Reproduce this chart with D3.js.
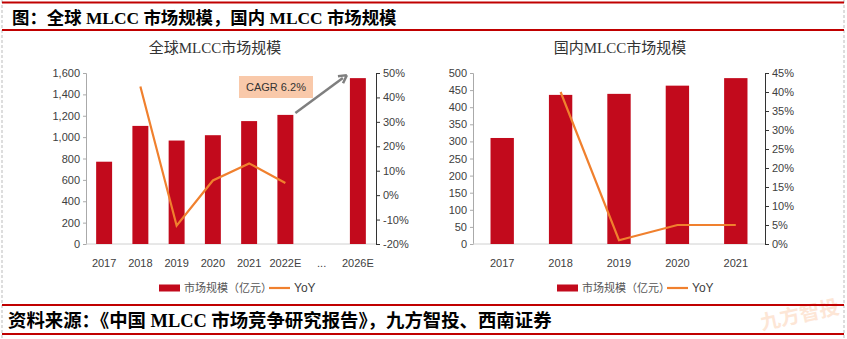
<!DOCTYPE html>
<html>
<head>
<meta charset="utf-8">
<script src="https://cdn.jsdelivr.net/npm/d3@7"></script>
<style>
  body { margin: 0; background: #fff; }
  svg text { font-family: "Liberation Sans", Arial, sans-serif; }
  .caption { font-family: "Liberation Serif", "Noto Sans CJK SC", serif !important; font-weight: bold; fill: #000; }
  .chart-title { font-family: "Liberation Serif", "Noto Sans CJK SC", serif !important; font-size: 15px; fill: #333; }
  .tick-label { font-size: 11px; fill: #404040; }
  .legend-label { font-size: 11px; fill: #555; font-family: "Noto Sans CJK SC", sans-serif !important; }
</style>
</head>
<body>
<div id="page"></div>
<script>
// Global MLCC market (100 million yuan) and YoY growth
var globalYears = ["2017", "2018", "2019", "2020", "2021", "2022E", "...", "2026E"];
var globalSize = [770, 1105, 968, 1018, 1150, 1208, null, 1552];
var globalYoY = [null, 44.5, -12.5, 6, 13, 5, null, null];
var globalLeftTicks = [0, 200, 400, 600, 800, 1000, 1200, 1400, 1600];
var globalRightTicks = [-20, -10, 0, 10, 20, 30, 40, 50];

// Domestic MLCC market
var chinaYears = ["2017", "2018", "2019", "2020", "2021"];
var chinaSize = [310, 436, 439, 463, 485];
var chinaYoY = [null, 40, 1, 5, 5];
var chinaLeftTicks = [0, 50, 100, 150, 200, 250, 300, 350, 400, 450, 500];
var chinaRightTicks = [0, 5, 10, 15, 20, 25, 30, 35, 40, 45];

var legendNames = ["市场规模（亿元）", "YoY"];

var W = 847, H = 339;
var barColor = "#c20a1c", lineColor = "#f0802e", red = "#c00000";

var svg = d3.select("#page").append("svg")
  .attr("width", W).attr("height", H);

/* Page frame: dashed side borders, red rules, caption and source */
function drawFrame() {
  // faint watermark, sits behind the rules
  svg.append("text")
    .attr("transform", "translate(762,330) rotate(-12)")
    .style("font-family", "Noto Sans CJK SC")
    .style("font-size", "20px").style("font-weight", "bold")
    .attr("fill", "#fde6d6")
    .text("九方智投");

  [2, 844].forEach(function(x) {
    svg.append("line")
      .attr("x1", x).attr("x2", x).attr("y1", 0).attr("y2", H)
      .attr("stroke", "#bbb").attr("stroke-dasharray", "3,2");
  });
  [2.5, 30, 305, 334].forEach(function(y) {
    svg.append("line")
      .attr("x1", 2).attr("x2", 844).attr("y1", y).attr("y2", y)
      .attr("stroke", red).attr("stroke-width", 2);
  });
  svg.append("text").attr("class", "caption")
    .attr("x", 12).attr("y", 24)
    .style("font-size", "17.4px")
    .text("图：全球 MLCC 市场规模，国内 MLCC 市场规模");
  svg.append("text").attr("class", "caption")
    .attr("x", 8).attr("y", 327)
    .style("font-size", "18.4px")
    .text("资料来源：《中国 MLCC 市场竞争研究报告》，九方智投、西南证券");
}

/* Bar + line combo chart with a value axis on each side */
class ComboChart {
  constructor(params) {
    this.p = params;
    this.g = svg.append("g");
  }

  setScales() {
    var p = this.p;
    this.x = d3.scaleBand().domain(p.categories).range([p.left, p.right]);
    this.yL = d3.scaleLinear().domain(p.leftDomain).range([p.bottom, p.top]);
    this.yR = d3.scaleLinear().domain(p.rightDomain).range([p.bottom, p.top]);
  }

  drawAxes() {
    var p = this.p, g = this.g;
    var left = g.append("g").attr("transform", "translate(" + p.left + ",0)")
      .call(d3.axisLeft(this.yL).tickValues(p.leftTicks).tickSize(3).tickFormat(d3.format(",")));
    left.select(".domain").attr("stroke", "#aaa");
    left.selectAll(".tick line").attr("stroke", "#aaa");

    var right = g.append("g").attr("transform", "translate(" + p.right + ",0)")
      .call(d3.axisRight(this.yR).tickValues(p.rightTicks).tickSize(4).tickFormat(function(d) { return d + "%"; }));
    right.select(".domain").attr("stroke", "#333");
    right.selectAll(".tick line").attr("stroke", "#333");

    [left, right].forEach(function(a) {
      a.selectAll(".tick text").attr("class", "tick-label").style("font-size", "11px").attr("fill", "#404040");
    });

    // category baseline and labels
    g.append("line")
      .attr("x1", p.left).attr("x2", p.right)
      .attr("y1", p.bottom).attr("y2", p.bottom)
      .attr("stroke", "#d0d0d0");
    var x = this.x;
    g.selectAll(".cat-label").data(p.categories).enter()
      .append("text").attr("class", "tick-label")
      .attr("x", function(d) { return x(d) + x.bandwidth() / 2; })
      .attr("y", p.bottom + 23)
      .attr("text-anchor", "middle")
      .text(function(d) { return d; });
  }

  drawBars() {
    var p = this.p, x = this.x, y = this.yL;
    var w = x.bandwidth() * p.barRatio;
    var data = p.categories.map(function(c, i) { return { c: c, v: p.values[i] }; })
      .filter(function(d) { return d.v != null; });
    this.g.selectAll(".bar").data(data).enter()
      .append("rect").attr("class", "bar")
      .attr("x", function(d) { return x(d.c) + (x.bandwidth() - w) / 2; })
      .attr("y", function(d) { return y(d.v); })
      .attr("width", w)
      .attr("height", function(d) { return p.bottom - y(d.v); })
      .attr("fill", barColor);
  }

  drawLine() {
    var p = this.p, x = this.x, y = this.yR;
    var pts = p.categories.map(function(c, i) { return { c: c, v: p.yoy[i] }; })
      .filter(function(d) { return d.v != null; });
    this.g.append("path").datum(pts)
      .attr("fill", "none").attr("stroke", lineColor).attr("stroke-width", 2.2)
      .attr("d", d3.line()
        .x(function(d) { return x(d.c) + x.bandwidth() / 2; })
        .y(function(d) { return y(d.v); }));
  }

  drawTitle() {
    var p = this.p;
    this.g.append("text").attr("class", "chart-title")
      .attr("x", p.titleX).attr("y", 53)
      .attr("text-anchor", "middle")
      .text(p.title);
  }

  drawLegend() {
    var p = this.p, lg = this.g.append("g")
      .attr("transform", "translate(" + p.legendX + ",288)");
    lg.append("rect").attr("x", 0).attr("y", -3.5).attr("width", 21).attr("height", 7).attr("fill", barColor);
    lg.append("text").attr("class", "legend-label").attr("x", 25).attr("y", 4).text(legendNames[0]);
    lg.append("line").attr("x1", 110).attr("x2", 131).attr("y1", 0).attr("y2", 0)
      .attr("stroke", lineColor).attr("stroke-width", 2.2);
    lg.append("text").attr("class", "tick-label").attr("x", 135).attr("y", 4)
      .style("font-size", "12px").attr("fill", "#333").text(legendNames[1]);
  }

  draw() {
    this.setScales();
    this.drawTitle();
    this.drawAxes();
    this.drawBars();
    this.drawLine();
    this.drawLegend();
  }
}

drawFrame();

var globalChart = new ComboChart({
  title: "全球MLCC市场规模", titleX: 215,
  categories: globalYears, values: globalSize, yoy: globalYoY,
  leftDomain: [0, 1600], rightDomain: [-20, 50],
  leftTicks: globalLeftTicks, rightTicks: globalRightTicks,
  left: 86, right: 376, top: 73, bottom: 244, barRatio: 0.44,
  legendX: 159
});
globalChart.draw();

// CAGR callout: box and grey arrow from 2022E to 2026E
(function() {
  var x = globalChart.x, y = globalChart.yL, g = globalChart.g;
  g.append("rect").attr("x", 239).attr("y", 76).attr("width", 74).attr("height", 22)
    .attr("fill", "#f9c9aa");
  g.append("text").attr("x", 276).attr("y", 91).attr("text-anchor", "middle")
    .style("font-size", "11px").attr("fill", "#333").text("CAGR 6.2%");
  var x0 = x("2022E") + x.bandwidth() / 2 + 10, y0 = y(1208) - 2;
  var x1 = x("2026E") + x.bandwidth() / 2 - 11, y1 = y(1552) - 3;
  var ang = Math.atan2(y1 - y0, x1 - x0);
  g.append("line").attr("x1", x0).attr("y1", y0)
    .attr("x2", x1 - 5 * Math.cos(ang)).attr("y2", y1 - 5 * Math.sin(ang))
    .attr("stroke", "#7f7f7f").attr("stroke-width", 2.5);
  var hl = 9, hw = 0.5;
  g.append("path")
    .attr("d", "M" + x1 + "," + y1 +
      "L" + (x1 - hl * Math.cos(ang - hw)) + "," + (y1 - hl * Math.sin(ang - hw)) +
      "M" + x1 + "," + y1 +
      "L" + (x1 - hl * Math.cos(ang + hw)) + "," + (y1 - hl * Math.sin(ang + hw)))
    .attr("stroke", "#7f7f7f").attr("stroke-width", 2.5).attr("fill", "none");
})();

new ComboChart({
  title: "国内MLCC市场规模", titleX: 620,
  categories: chinaYears, values: chinaSize, yoy: chinaYoY,
  leftDomain: [0, 500], rightDomain: [0, 45],
  leftTicks: chinaLeftTicks, rightTicks: chinaRightTicks,
  left: 473, right: 765, top: 73, bottom: 244, barRatio: 0.4,
  legendX: 557
}).draw();
</script>
</body>
</html>
